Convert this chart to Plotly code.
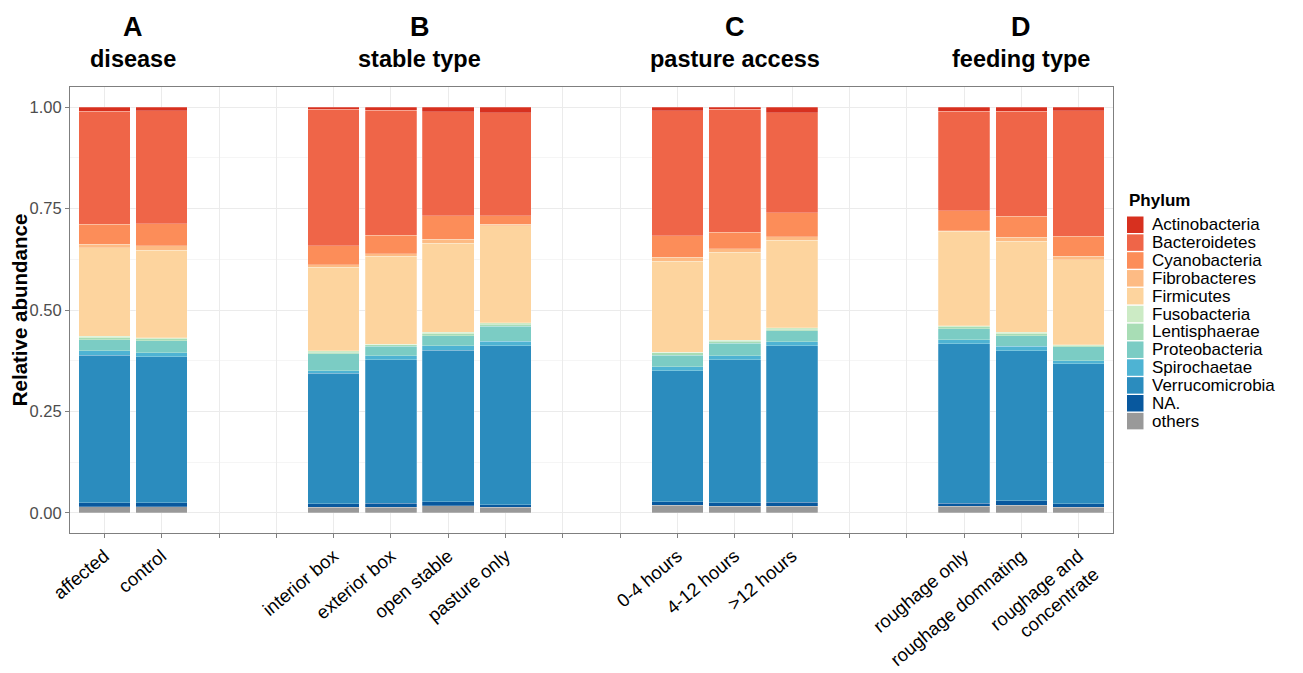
import plotly.graph_objects as go

# x axis slots (empty strings are the gaps between groups)
x_labels = ["affected", "control", "", "",
            "interior box", "exterior box", "open stable", "pasture only", "", "",
            "0-4 hours", "4-12 hours", ">12 hours", "", "",
            "roughage only", "roughage domnating", "roughage and<br>concentrate"]

# phyla from bottom of stack to top
phyla = ["others", "NA.", "Verrucomicrobia", "Spirochaetae", "Proteobacteria",
         "Lentisphaerae", "Fusobacteria", "Firmicutes", "Fibrobacteres",
         "Cyanobacteria", "Bacteroidetes", "Actinobacteria"]
colors = ["#999999", "#08589E", "#2B8CBE", "#4EB3D3", "#7BCCC4",
          "#A8DDB5", "#CCEBC5", "#FDD49E", "#FDBB84",
          "#FC8D59", "#EF6548", "#D7301F"]

# values per bar, order of non-empty x_labels
others          = [0.015, 0.015, 0.014, 0.013, 0.017, 0.014, 0.019, 0.016, 0.016, 0.016, 0.019, 0.014]
na_             = [0.010, 0.010, 0.008, 0.011, 0.010, 0.006, 0.008, 0.009, 0.010, 0.007, 0.010, 0.008]
verrucomicrobia = [0.364, 0.360, 0.322, 0.353, 0.374, 0.392, 0.323, 0.352, 0.386, 0.394, 0.370, 0.345]
spirochaetae    = [0.010, 0.010, 0.006, 0.010, 0.011, 0.011, 0.010, 0.010, 0.010, 0.010, 0.012, 0.008]
proteobacteria  = [0.028, 0.029, 0.042, 0.024, 0.025, 0.037, 0.029, 0.031, 0.027, 0.027, 0.025, 0.034]
lentisphaerae   = [0.005, 0.005, 0.004, 0.003, 0.005, 0.005, 0.005, 0.005, 0.004, 0.005, 0.006, 0.003]
fusobacteria    = [0.003, 0.002, 0.003, 0.002, 0.003, 0.003, 0.002, 0.003, 0.003, 0.002, 0.003, 0.002]
firmicutes      = [0.219, 0.216, 0.207, 0.216, 0.220, 0.240, 0.224, 0.217, 0.216, 0.233, 0.224, 0.210]
fibrobacteres   = [0.008, 0.011, 0.006, 0.007, 0.010, 0.004, 0.010, 0.008, 0.009, 0.002, 0.010, 0.008]
cyanobacteria   = [0.049, 0.055, 0.046, 0.045, 0.058, 0.021, 0.053, 0.041, 0.059, 0.049, 0.052, 0.050]
bacteroidetes   = [0.279, 0.278, 0.337, 0.309, 0.256, 0.253, 0.309, 0.303, 0.246, 0.245, 0.259, 0.310]
actinobacteria  = [0.010, 0.009, 0.005, 0.007, 0.011, 0.014, 0.008, 0.005, 0.014, 0.010, 0.010, 0.008]

series = [others, na_, verrucomicrobia, spirochaetae, proteobacteria, lentisphaerae,
          fusobacteria, firmicutes, fibrobacteres, cyanobacteria, bacteroidetes, actinobacteria]

# group headers: letter, title, slot range (1-based)
groups = [("A", "disease", 1, 2), ("B", "stable type", 5, 8),
          ("C", "pasture access", 11, 13), ("D", "feeding type", 16, 18)]

# page body adds an 8px offset; figure is sized so the plot lands where the reference has it
OFF = 8
W, H = 1303 - OFF, 673 - OFF
ML, MR, MT, MB = 70 - OFF, 190, 87 - OFF, 140
PW, PH = W - ML - MR, H - MT - MB

def px_x(p):   # page pixel -> paper x
    return (p - OFF - ML) / PW

def px_y(p):   # page pixel -> paper y
    return 1 - (p - OFF - MT) / PH

slots = list(range(1, len(x_labels) + 1))
bar_x = [s for s, lab in zip(slots, x_labels) if lab]

fig = go.Figure()
for name, col, vals in zip(phyla, colors, series):
    fig.add_trace(go.Bar(x=bar_x, y=vals, name=name, width=0.9, showlegend=False,
                         marker=dict(color=col, line=dict(color="rgba(255,255,255,0.6)", width=0.4))))

for letter, title, a, b in groups:
    cx = (a + b) / 2
    fig.add_annotation(x=cx, xref="x", y=px_y(27), yref="paper", text="<b>%s</b>" % letter,
                       showarrow=False, font=dict(size=27, color="black"), yanchor="middle")
    fig.add_annotation(x=cx, xref="x", y=px_y(59), yref="paper", text="<b>%s</b>" % title,
                       showarrow=False, font=dict(size=23.5, color="black"), yanchor="middle")

# legend drawn as swatches + labels (top entry = Actinobacteria)
leg_x0 = 1127
leg_top = 216.5
pitch = 17.85
sw = 16.5
fig.add_annotation(x=px_x(leg_x0), xref="paper", y=px_y(200), yref="paper",
                   text="<b>Phylum</b>", showarrow=False, xanchor="left", yanchor="middle",
                   font=dict(size=17, color="black"))
for i, (name, col) in enumerate(zip(phyla[::-1], colors[::-1])):
    y0 = leg_top + i * pitch
    fig.add_shape(type="rect", xref="paper", yref="paper",
                  x0=px_x(leg_x0), x1=px_x(leg_x0 + sw),
                  y0=px_y(y0), y1=px_y(y0 + sw),
                  fillcolor=col, line=dict(width=0))
    fig.add_annotation(x=px_x(1150), xref="paper", y=px_y(y0 + sw / 2), yref="paper",
                       text=name, showarrow=False, xanchor="left", yanchor="middle",
                       font=dict(size=17, color="black"))

fig.update_layout(
    width=W, height=H, barmode="stack", showlegend=False,
    margin=dict(l=ML, r=MR, t=MT, b=MB),
    paper_bgcolor="white", plot_bgcolor="white",
    font=dict(family="Liberation Sans, Arial, sans-serif", color="black"),
    xaxis=dict(range=[0.4, 18.6], tickmode="array", tickvals=slots, ticktext=x_labels,
               tickangle=-40, tickfont=dict(size=18.5, color="black"), automargin=False,
               showgrid=True, gridcolor="#EBEBEB", gridwidth=1,
               ticks="outside", ticklen=4, tickcolor="#7F7F7F",
               showline=True, linecolor="#7F7F7F", linewidth=1, mirror=True, zeroline=False),
    yaxis=dict(range=[-0.05, 1.05], tickvals=[0, 0.25, 0.5, 0.75, 1.0],
               ticktext=["0.00", "0.25", "0.50", "0.75", "1.00"],
               tickfont=dict(size=16.5, color="#4D4D4D"), automargin=False,
               showgrid=True, gridcolor="#EBEBEB", gridwidth=1,
               minor=dict(tickvals=[0.125, 0.375, 0.625, 0.875], showgrid=True,
                          gridcolor="#F5F5F5", gridwidth=1),
               ticks="outside", ticklen=4, tickcolor="#7F7F7F",
               showline=True, linecolor="#7F7F7F", linewidth=1, mirror=True, zeroline=False,
               title=dict(text="<b>Relative abundance</b>", font=dict(size=20.5), standoff=8)),
)

fig.write_html("out.html")
